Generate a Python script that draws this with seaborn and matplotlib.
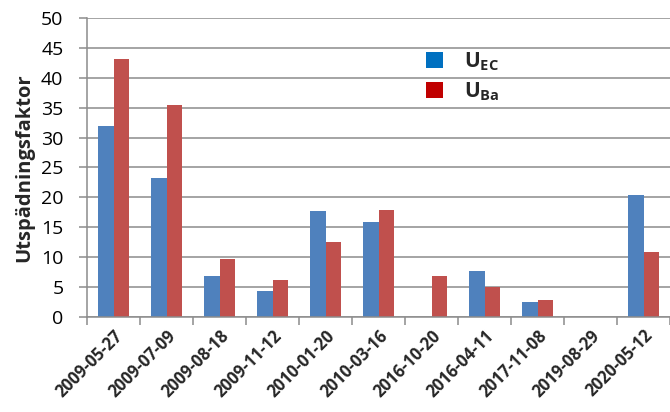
import matplotlib
matplotlib.use("Agg")
import matplotlib.pyplot as plt
from matplotlib.patches import Patch
import seaborn as sns
import pandas as pd
import numpy as np

dates = ["2009-05-27", "2009-07-09", "2009-08-18", "2009-11-12", "2010-01-20",
         "2010-03-16", "2016-10-20", "2016-04-11", "2017-11-08", "2019-08-29",
         "2020-05-12"]
u_ec = [32.0, 23.2, 6.8, 4.3, 17.7, 15.8, np.nan, 7.7, 2.4, np.nan, 20.4]
u_ba = [43.1, 35.4, 9.7, 6.1, 12.6, 17.9, 6.9, 5.0, 2.9, np.nan, 10.8]
series = ["U_EC", "U_Ba"]

df = pd.DataFrame({
    "Datum": dates * 2,
    "Serie": [series[0]] * len(dates) + [series[1]] * len(dates),
    "Värde": u_ec + u_ba,
})

sns.set_theme(style="white")
plt.rcParams["font.family"] = ["Open Sans", "DejaVu Sans"]
plt.rcParams["mathtext.fontset"] = "custom"
plt.rcParams["mathtext.bf"] = "Open Sans:bold"
plt.rcParams["mathtext.rm"] = "Open Sans"

fig = plt.figure(figsize=(6.7, 4.12), dpi=100)
ax = fig.add_axes([0.13, 0.231, 0.87, 0.725])

bar_colors = {"U_EC": "#4F81BD", "U_Ba": "#C0504D"}
sns.barplot(data=df, x="Datum", y="Värde", hue="Serie", order=dates,
            hue_order=series, palette=bar_colors, width=0.57,
            saturation=1, ax=ax, legend=False, edgecolor="none")

ax.set_ylim(0, 50)
ax.set_yticks(np.arange(0, 51, 5))
ax.set_xlim(-0.5, 10.32)
ax.yaxis.grid(True, color="#8C8C8C", linewidth=1.1)
ax.set_axisbelow(True)

for side in ["top", "right"]:
    ax.spines[side].set_visible(False)
for side in ["left", "bottom"]:
    ax.spines[side].set_color("#8C8C8C")
    ax.spines[side].set_linewidth(1.1)

# Category boundary ticks on the x axis
ax.set_xticks(np.arange(len(dates)))
ax.set_xticklabels(dates, rotation=45, ha="right", va="top",
                   rotation_mode="anchor", fontsize=12, fontweight="bold")
ax.set_xticks(np.arange(-0.5, len(dates), 1.0), minor=True)
ax.tick_params(axis="x", which="major", length=0, pad=7)
ax.tick_params(axis="x", which="minor", length=6, color="#8C8C8C", width=1.1,
               direction="out", bottom=True)
ax.tick_params(axis="y", length=6, color="#8C8C8C", width=1.1,
               direction="out", left=True, labelsize=14, pad=11)
for lbl in ax.get_yticklabels():
    lbl.set_color("#000000")

ax.set_xlabel("")
ax.set_ylabel("Utspädningsfaktor", fontsize=14.5, fontweight="bold", labelpad=5)

handles = [Patch(facecolor="#0070C0", edgecolor="none"),
           Patch(facecolor="#C00000", edgecolor="none")]
labels = [r"$\mathbf{U}_{\mathbf{EC}}$", r"$\mathbf{U}_{\mathbf{Ba}}$"]
ax.legend(handles, labels, loc="upper left", bbox_to_anchor=(0.55, 0.955),
          frameon=False, fontsize=15, handlelength=0.8, handleheight=0.8,
          handletextpad=1.0, labelspacing=0.35)

fig.savefig("out.png", dpi=100)
